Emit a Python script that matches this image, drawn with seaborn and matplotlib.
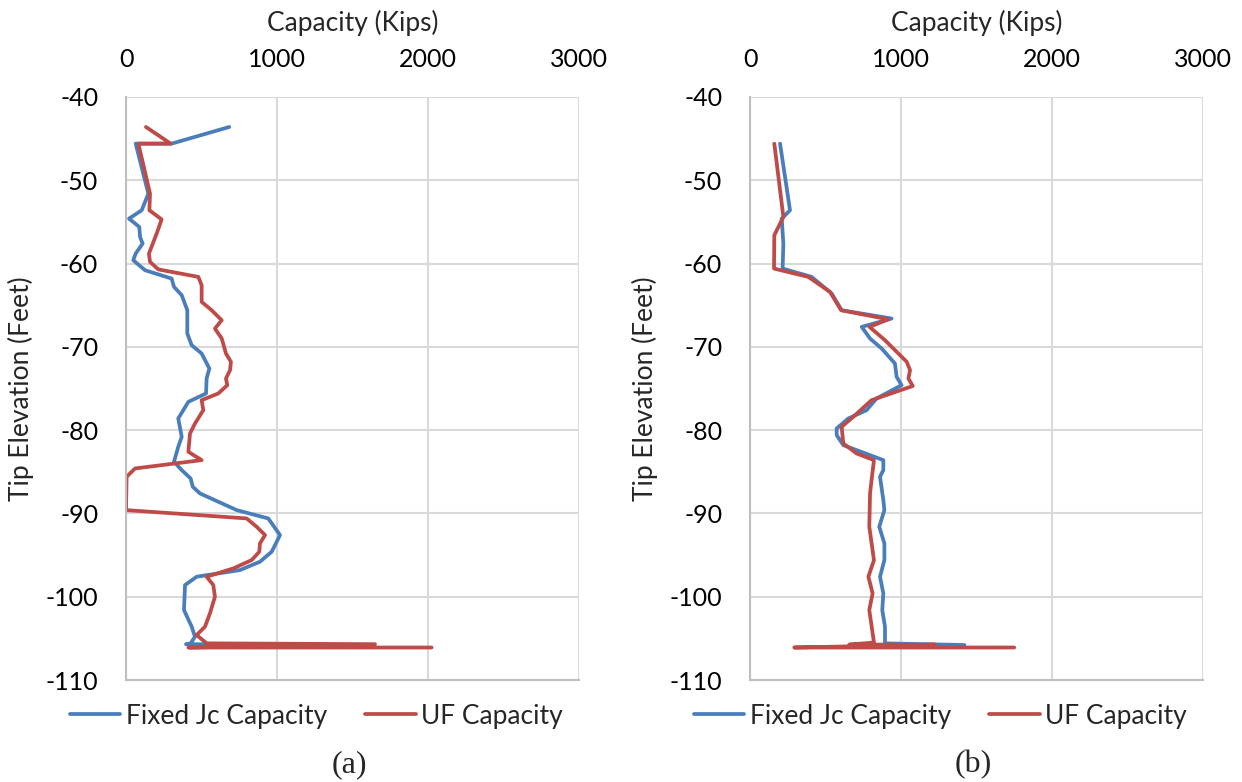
import matplotlib
matplotlib.use("Agg")
import matplotlib.pyplot as plt
import seaborn as sns
import pandas as pd
from matplotlib.lines import Line2D

# ---------------- data ----------------
a_fixed_cap = [684, 302, 64, 148, 104, 20, 88, 93, 110, 64, 48, 126, 302, 318, 369, 406, 406, 435,
               501, 552, 534, 530, 413, 346, 369, 346, 318, 369, 428, 442, 490, 733, 942, 1020,
               965, 887, 755, 468, 391, 384, 435, 457, 424, 397, 1620]
a_fixed_elev = [-43.6, -45.6, -45.6, -51.6, -53.6, -54.6, -55.6, -56.8, -57.6, -58.8, -59.6, -60.8,
                -61.8, -62.8, -63.8, -65.6, -68.4, -69.8, -70.8, -72.6, -73.8, -75.6, -76.6, -78.6,
                -80.8, -82.0, -83.8, -84.8, -85.8, -86.8, -87.6, -89.6, -90.6, -92.6, -94.6, -95.8,
                -96.8, -97.6, -98.6, -101.6, -103.6, -104.8, -105.7, -105.7, -105.8]

a_uf_cap = [132, 296, 82, 159, 155, 236, 203, 152, 159, 214, 479, 501, 501, 567, 634, 589, 634, 662,
            695, 689, 662, 671, 611, 501, 512, 457, 424, 413, 501, 60, 4, 0, 799, 865, 921, 887,
            883, 832, 711, 534, 578, 589, 556, 523, 468, 534, 1649, 413, 2024]
a_uf_elev = [-43.6, -45.6, -45.6, -51.6, -53.6, -54.7, -56.4, -58.8, -59.8, -60.7, -61.6, -62.6,
             -64.6, -65.6, -66.8, -67.8, -69.0, -70.8, -71.8, -72.8, -73.8, -74.6, -75.6, -76.4,
             -77.6, -79.2, -80.4, -82.6, -83.6, -84.6, -85.6, -89.6, -90.6, -91.6, -92.6, -93.6,
             -94.6, -95.6, -96.6, -97.6, -98.6, -100.0, -102.0, -103.6, -104.6, -105.6, -105.7,
             -106.1, -106.1]

b_fixed_cap = [199, 265, 210, 221, 216, 408, 541, 607, 938, 740, 795, 872, 960, 971, 1004, 838, 772,
               651, 574, 574, 618, 883, 883, 861, 883, 890, 856, 890, 890, 861, 883, 876, 894, 894,
               1420]
b_fixed_elev = [-45.6, -53.6, -54.6, -57.6, -60.6, -61.6, -63.6, -65.6, -66.6, -67.6, -69.0, -70.2,
                -72.0, -73.6, -74.6, -76.2, -77.6, -78.6, -79.8, -80.6, -81.8, -83.6, -84.8, -85.6,
                -88.4, -89.6, -91.6, -93.6, -95.6, -97.6, -99.6, -101.6, -103.6, -105.6, -105.8]

b_uf_cap = [161, 221, 161, 159, 386, 530, 603, 916, 791, 894, 1038, 1060, 1049, 1078, 805, 684, 607,
            618, 706, 821, 805, 795, 790, 821, 784, 812, 790, 821, 658, 1225, 293, 1750]
b_uf_elev = [-45.6, -54.4, -56.6, -60.6, -61.6, -63.4, -65.6, -66.7, -67.6, -69.2, -71.8, -72.8,
             -73.8, -74.7, -76.4, -78.4, -79.6, -81.6, -82.8, -83.6, -86.0, -87.6, -91.6, -95.6,
             -97.6, -99.6, -101.6, -105.5, -105.75, -105.75, -106.1, -106.1]

series_names = ["Fixed Jc Capacity", "UF Capacity"]
x_ticks = [0, 1000, 2000, 3000]
y_ticks = [-40, -50, -60, -70, -80, -90, -100, -110]
panel_labels = ["(a)", "(b)"]

# ---------------- style ----------------
sns.set_theme(style="white")
plt.rcParams["font.family"] = ["Lato", "DejaVu Sans"]
plt.rcParams["axes.unicode_minus"] = False

BLUE = "#4A7EBB"
RED = "#BE4B48"
GRID = "#D9D9D9"
AXIS = "#BFBFBF"
palette = {series_names[0]: BLUE, series_names[1]: RED}
LW = 2.7

fig = plt.figure(figsize=(12.42, 7.82), dpi=100)

panels = [
    (a_fixed_cap, a_fixed_elev, a_uf_cap, a_uf_elev),
    (b_fixed_cap, b_fixed_elev, b_uf_cap, b_uf_elev),
]
lefts = [126 / 1242, 750 / 1242]
width = 453 / 1242
bottom = 1 - 680 / 782
height = 583 / 782

for i, (fc, fe, uc, ue) in enumerate(panels):
    ax = fig.add_axes([lefts[i], bottom, width, height])
    df = pd.DataFrame({
        "cap": fc + uc,
        "elev": fe + ue,
        "series": [series_names[0]] * len(fc) + [series_names[1]] * len(uc),
    })
    sns.lineplot(data=df, x="cap", y="elev", hue="series", palette=palette,
                 sort=False, estimator=None, linewidth=LW, ax=ax, legend=False)
    ax.set_xlim(0, 3000)
    ax.set_ylim(-110, -40)
    ax.set_xticks(x_ticks)
    ax.set_yticks(y_ticks)
    ax.xaxis.tick_top()
    ax.xaxis.set_label_position("top")
    ax.set_xlabel("Capacity (Kips)", fontsize=19, labelpad=12)
    ax.set_ylabel("Tip Elevation (Feet)", fontsize=19, labelpad=8)
    ax.tick_params(axis="x", length=0, labelsize=18, pad=19, colors="black")
    ax.tick_params(axis="y", length=0, labelsize=18, pad=20, colors="black")
    ax.grid(True, color=GRID, linewidth=1.5)
    ax.set_axisbelow(True)
    for s in ["top", "right"]:
        ax.spines[s].set_visible(False)
    for s in ["left", "bottom"]:
        ax.spines[s].set_color(AXIS)
        ax.spines[s].set_linewidth(1.5)
    handles = [Line2D([0], [0], color=BLUE, lw=LW), Line2D([0], [0], color=RED, lw=LW)]
    ax.legend(handles, series_names, loc="center", bbox_to_anchor=(0.42, -0.062),
              ncol=2, frameon=False, fontsize=19, handlelength=1.93, columnspacing=1.44,
              handletextpad=0.2, borderpad=0, borderaxespad=0)
    fig.text(lefts[i] + width * 0.493, 1 - 765 / 782, panel_labels[i], ha="center", va="center",
             fontsize=23, family=["Liberation Serif", "DejaVu Serif"])

fig.savefig("out.png", dpi=100)
